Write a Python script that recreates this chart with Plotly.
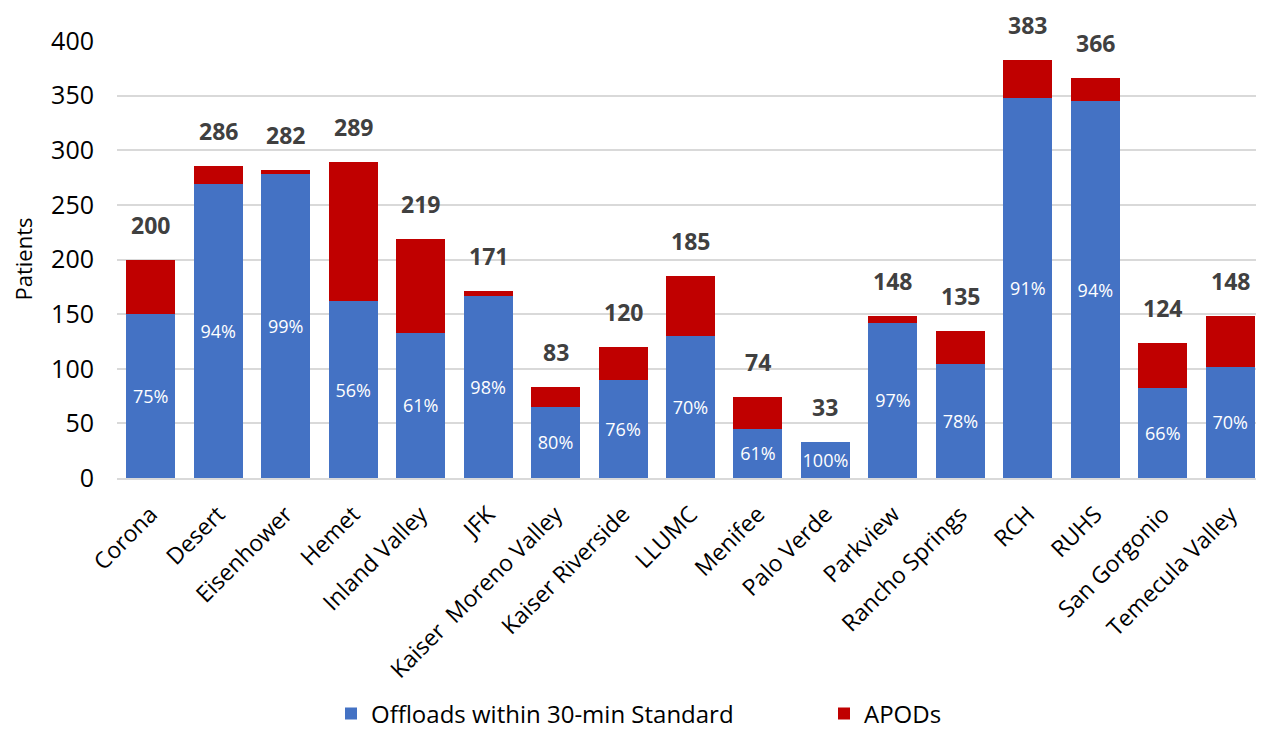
import plotly.graph_objects as go

categories = ["Corona", "Desert", "Eisenhower", "Hemet", "Inland Valley", "JFK",
              "Kaiser  Moreno Valley", "Kaiser Riverside", "LLUMC", "Menifee",
              "Palo Verde", "Parkview", "Rancho Springs", "RCH", "RUHS",
              "San Gorgonio", "Temecula Valley"]
totals = [200, 286, 282, 289, 219, 171, 83, 120, 185, 74, 33, 148, 135, 383, 366, 124, 148]
within = [150, 269, 278, 162, 133, 167, 65, 90, 130, 45, 33, 142, 104, 348, 345, 82, 102]
pct_labels = ["75%", "94%", "99%", "56%", "61%", "98%", "80%", "76%", "70%", "61%",
              "100%", "97%", "78%", "91%", "94%", "66%", "70%"]
apods = [t - w for t, w in zip(totals, within)]

FONT = "Open Sans"
fig = go.Figure()
fig.add_trace(go.Bar(
    x=categories, y=within, name="Offloads within 30-min Standard",
    marker=dict(color="#4472C4", line=dict(width=0)),
    text=pct_labels, textposition="inside", insidetextanchor="middle",
    textfont=dict(color="white", size=18, family=FONT), textangle=0,
    constraintext="none",
))
fig.add_trace(go.Bar(
    x=categories, y=apods, name="APODs",
    marker=dict(color="#C00000", line=dict(width=0)),
))

annotations = [
    dict(x=c, y=t, text="<b>%d</b>" % t, showarrow=False, yanchor="middle",
         yshift=35, font=dict(family=FONT, size=23, color="#404040"))
    for c, t in zip(categories, totals)
]
annotations.append(dict(text="Patients", xref="paper", yref="paper",
                        x=(22 - 117) / 1147, y=0.5, xanchor="center", yanchor="middle",
                        textangle=-90, showarrow=False,
                        font=dict(family=FONT, size=22, color="black")))

fig.update_layout(
    barmode="stack", bargap=0.274,
    width=1264, height=729,
    margin=dict(l=109, r=8, t=33, b=259, autoexpand=False),
    plot_bgcolor="white", paper_bgcolor="white",
    font=dict(family=FONT, color="black"),
    annotations=annotations,
    showlegend=True,
    legend=dict(orientation="h", traceorder="normal",
                x=(331 - 117) / 1147, xanchor="left", y=-(714 - 478) / 437, yanchor="middle",
                font=dict(size=24, family=FONT), entrywidth=448, entrywidthmode="pixels",
                itemwidth=30),
    yaxis=dict(range=[0, 400], dtick=50, showgrid=True, gridcolor="#D9D9D9", gridwidth=1.5,
               tickfont=dict(size=25), zeroline=False, ticklabelstandoff=22),
    xaxis=dict(tickangle=-45, tickfont=dict(size=23), showline=True, linecolor="#D9D9D9",
               linewidth=1.5, ticklabelstandoff=12),
)
fig.write_html("out.html")
